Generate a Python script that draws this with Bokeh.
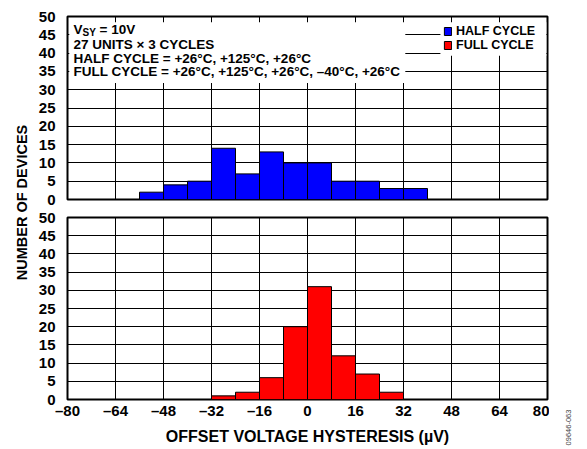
import math
from bokeh.plotting import figure
from bokeh.layouts import row, column
from bokeh.models import Range1d, FixedTicker, Label, BoxAnnotation, Legend, LegendItem
from bokeh.embed import file_html
from bokeh.resources import INLINE

# ---------------- data ----------------
bin_width = 8
half_bin_left = [-56, -48, -40, -32, -24, -16, -8, 0, 8, 16, 24, 32]
half_counts = [2, 4, 5, 14, 7, 13, 10, 10, 5, 5, 3, 3]
full_bin_left = [-32, -24, -16, -8, 0, 8, 16, 24]
full_counts = [1, 2, 6, 20, 31, 12, 7, 2]
x_ticks = [-80, -64, -48, -32, -16, 0, 16, 32, 48, 64, 80]
x_tick_labels = ["–80", "–64", "–48", "–32", "–16", "0", "16", "32", "48", "64", "80"]
y_ticks = [0, 5, 10, 15, 20, 25, 30, 35, 40, 45, 50]
series_names = ["HALF CYCLE", "FULL CYCLE"]
series_colors = ["#0000FF", "#FF0000"]
x_title = "OFFSET VOLTAGE HYSTERESIS (µV)"
y_title = "NUMBER OF DEVICES"
note_lines = ["27 UNITS × 3 CYCLES",
              "HALF CYCLE = +26°C, +125°C, +26°C",
              "FULL CYCLE = +26°C, +125°C, +26°C, –40°C, +26°C"]
fig_id = "09646-063"

FONT = "Liberation Sans"
LEFT_W = 32
BL, FW, BR = 35, 480, 2
RIGHT_W = 587 - LEFT_W - (BL + FW + BR)
TOP_H = 16 + 183 + 9
BOT_H = 9 + 182 + 50
TOTAL_H = TOP_H + BOT_H


def panel(height, bt, bb, with_x):
    p = figure(width=BL + FW + BR, height=height,
               x_range=Range1d(-80, 80), y_range=Range1d(0, 50),
               output_backend="svg", toolbar_location=None,
               x_axis_location="below" if with_x else None,
               min_border_left=BL, min_border_right=BR,
               min_border_top=bt, min_border_bottom=bb)
    p.outline_line_color = "black"
    p.outline_line_width = 2
    p.outline_line_alpha = 1
    p.xgrid.ticker = FixedTicker(ticks=x_ticks)
    p.ygrid.ticker = FixedTicker(ticks=y_ticks)
    for g in (p.xgrid, p.ygrid):
        g.grid_line_color = "black"
        g.grid_line_width = 1
        g.grid_line_alpha = 1
    ya = p.yaxis[0]
    ya.ticker = FixedTicker(ticks=y_ticks)
    ya.axis_line_color = None
    ya.major_tick_line_color = None
    ya.minor_tick_line_color = None
    ya.major_label_text_font = FONT
    ya.major_label_text_font_style = "bold"
    ya.major_label_text_font_size = "15px"
    ya.major_label_text_color = "black"
    ya.major_label_standoff = 6
    if with_x:
        xa = p.xaxis[0]
        xa.ticker = FixedTicker(ticks=x_ticks)
        xa.major_label_overrides = {t: l for t, l in zip(x_ticks, x_tick_labels)}
        xa.axis_line_color = None
        xa.major_tick_line_color = None
        xa.minor_tick_line_color = None
        xa.major_tick_out = 0
        xa.major_label_text_font = FONT
        xa.major_label_text_font_style = "bold"
        xa.major_label_text_font_size = "15px"
        xa.major_label_text_color = "black"
        xa.major_label_standoff = 2
        xa.axis_label = x_title
        xa.axis_label_text_font = FONT
        xa.axis_label_text_font_style = "bold"
        xa.axis_label_text_font_size = "16px"
        xa.axis_label_text_color = "black"
        xa.axis_label_standoff = 6
    return p


# ---------------- top panel ----------------
top = panel(TOP_H, 16, 9, False)
r_half = top.quad(left=half_bin_left, right=[l + bin_width for l in half_bin_left],
                  bottom=0, top=half_counts, fill_color=series_colors[0],
                  line_color="black", line_width=1)
nan = float("nan")
r_full_key = top.quad(left=[nan], right=[nan], bottom=[nan], top=[nan],
                      fill_color=series_colors[1], line_color="black", line_width=1)

# white panels behind the note block and the key
top.add_layout(BoxAnnotation(left=-79.4, right=32.6, bottom=31.8, top=48.4,
                             fill_color="white", fill_alpha=1, line_color=None))
top.add_layout(BoxAnnotation(left=44.3, right=79.6, bottom=39.3, top=48.4,
                             fill_color="white", fill_alpha=1, line_color=None))

lab_kw = dict(text_font=FONT, text_font_style="bold", text_color="black",
              text_baseline="middle", text_align="left")
top.add_layout(Label(x=-78, y=46.4, text="V", text_font_size="13.5px", **lab_kw))
top.add_layout(Label(x=-78, y=46.4, x_offset=9, y_offset=-3, text="SY",
                     text_font_size="10px", **lab_kw))
top.add_layout(Label(x=-78, y=46.4, x_offset=26, text="= 10V", text_font_size="13.5px", **lab_kw))
for yv, t in zip([42.3, 38.5, 35.0], note_lines):
    top.add_layout(Label(x=-78, y=yv, text=t, text_font_size="13.5px", **lab_kw))

legend = Legend(items=[LegendItem(label=series_names[0], renderers=[r_half]),
                       LegendItem(label=series_names[1], renderers=[r_full_key])],
                location=(376, 147))
legend.label_text_font = FONT
legend.label_text_font_style = "bold"
legend.label_text_font_size = "12.5px"
legend.label_text_color = "black"
legend.label_height = 12
legend.glyph_height = 10
legend.glyph_width = 9
legend.label_standoff = 4
legend.spacing = 0
legend.padding = 7
legend.margin = 0
legend.border_line_color = None
legend.background_fill_color = "white"
legend.background_fill_alpha = 1
top.add_layout(legend)

# ---------------- bottom panel ----------------
bot = panel(BOT_H, 9, 50, True)
bot.quad(left=full_bin_left, right=[l + bin_width for l in full_bin_left],
         bottom=0, top=full_counts, fill_color=series_colors[1],
         line_color="black", line_width=1)


def side(width):
    s = figure(width=width, height=TOTAL_H, x_range=Range1d(0, width),
               y_range=Range1d(TOTAL_H, 0), output_backend="svg",
               toolbar_location=None, x_axis_type=None, y_axis_type=None,
               min_border=0)
    s.outline_line_color = None
    s.xgrid.visible = False
    s.ygrid.visible = False
    return s


left = side(LEFT_W)
left.add_layout(Label(x=21.7, y=202, text=y_title, angle=math.pi / 2,
                      text_font=FONT, text_font_style="bold", text_font_size="14.5px",
                      text_color="black", text_align="center", text_baseline="middle"))

right = side(RIGHT_W)
right.add_layout(Label(x=19, y=427, text=fig_id, angle=math.pi / 2,
                       text_font=FONT, text_font_size="7.5px",
                       text_color="#444444", text_align="center", text_baseline="middle"))

p = row(left, column(top, bot), right)

open("out.html", "w").write(file_html(p, INLINE))
